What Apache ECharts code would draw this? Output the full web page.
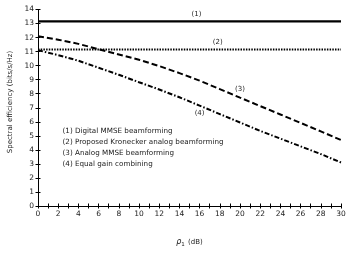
<!DOCTYPE html>
<html><head><meta charset="utf-8">
<script src="https://cdn.jsdelivr.net/npm/echarts@6/dist/echarts.min.js"></script>
<style>html,body{margin:0;padding:0;background:#fff}#c{width:349px;height:253px}</style>
</head><body><div id="c"></div>
<script>
const xValues = [0,2,4,6,8,10,12,14,16,18,20,22,24,26,28,30];
const digitalMMSE = [13.15,13.15,13.15,13.15,13.15,13.15,13.15,13.15,13.15,13.15,13.15,13.15,13.15,13.15,13.15,13.15];
const kronecker = [11.15,11.15,11.15,11.15,11.15,11.15,11.15,11.15,11.15,11.15,11.15,11.15,11.15,11.15,11.15,11.15];
const analogMMSE = [12.1,11.85,11.55,11.17,10.8,10.42,9.97,9.47,8.93,8.33,7.72,7.12,6.52,5.92,5.32,4.7];
const egc = [11.1,10.75,10.35,9.85,9.35,8.82,8.3,7.75,7.15,6.55,5.95,5.35,4.8,4.25,3.7,3.1];
const curveTags = ['(1)','(2)','(3)','(4)'];
const tagPos = [[15.7,13.66],[17.8,11.7],[20.0,8.33],[16.0,6.58]];
const legendLines = ['(1) Digital MMSE beamforming','(2) Proposed Kronecker analog beamforming','(3) Analog MMSE beamforming','(4) Equal gain combining'];
const yAxisTitle = 'Spectral efficiency (bits/s/Hz)';

const font = 'DejaVu Sans';
const chart = echarts.init(document.getElementById('c'));
function mk(name, data, type, width, tagIdx){
  return {
    type:'line', name, data: xValues.map((x,i)=>[x,data[i]]),
    symbol:'none', silent:true, animation:false,
    lineStyle:{color:'#000', width, type},
    markPoint:{symbol:'circle', symbolSize:0, silent:true, animation:false,
      label:{show:true, position:'inside', formatter:curveTags[tagIdx], color:'#222', fontFamily:font, fontSize:7},
      data:[{coord:tagPos[tagIdx]}]}
  };
}
const baseX = {type:'value', min:0, max:30, interval:1,
  axisLine:{lineStyle:{color:'#000', width:1}},
  splitLine:{show:false}};
chart.setOption({
  animation:false,
  grid:{left:38, right:8, top:9.5, bottom:45},
  xAxis:[
    Object.assign({}, baseX, {
      axisTick:{show:true, length:2.5, lineStyle:{color:'#000'}},
      axisLabel:{interval:1, fontFamily:font, fontSize:7.5, color:'#222', margin:4,
        formatter:v=> (v%2===0? String(v):'')},
      name:'{r|ρ}{s|1} {t|(dB)}', nameLocation:'middle', nameGap:30,
      nameTextStyle:{rich:{r:{fontFamily:font, fontStyle:'italic', fontSize:8, color:'#222'},
        s:{fontFamily:font, fontSize:5.5, color:'#222', verticalAlign:'bottom', padding:[6,0,0,0]},
        t:{fontFamily:font, fontSize:7, color:'#222'}}}
    }),
    Object.assign({}, baseX, {position:'bottom', axisTick:{show:true, inside:true, length:2.5, lineStyle:{color:'#000'}}, axisLabel:{show:false}})
  ],
  yAxis:[
    {type:'value', min:0, max:14, interval:1,
      axisLine:{show:true, lineStyle:{color:'#000'}},
      axisTick:{show:true, length:2.5, lineStyle:{color:'#000'}},
      splitLine:{show:false},
      axisLabel:{fontFamily:font, fontSize:7.5, color:'#222', margin:4}},
    {type:'value', min:0, max:14, interval:1, position:'left',
      axisLine:{show:false}, axisTick:{show:true, inside:true, length:2.5, lineStyle:{color:'#000'}},
      axisLabel:{show:false}, splitLine:{show:false}}
  ],
  series:[
    mk('Digital MMSE', digitalMMSE, 'solid', 2.2, 0),
    mk('Kronecker', kronecker, [1.5,1.2], 2, 1),
    mk('Analog MMSE', analogMMSE, [6,3], 2, 2),
    mk('EGC', egc, [5,2,1.5,2], 2, 3)
  ],
  graphic: legendLines.map((t,i)=>({type:'text', left:62.5, top:127.5+i*11.1, silent:true,
    style:{text:t, fontFamily:font, fontSize:7.2, fill:'#222'}})).concat([
    {type:'text', x:10, y:102, rotation:Math.PI/2, silent:true,
      style:{text:yAxisTitle, fontFamily:font, fontSize:7, fill:'#222', align:'center', verticalAlign:'middle'}}
  ])
});
</script></body></html>
